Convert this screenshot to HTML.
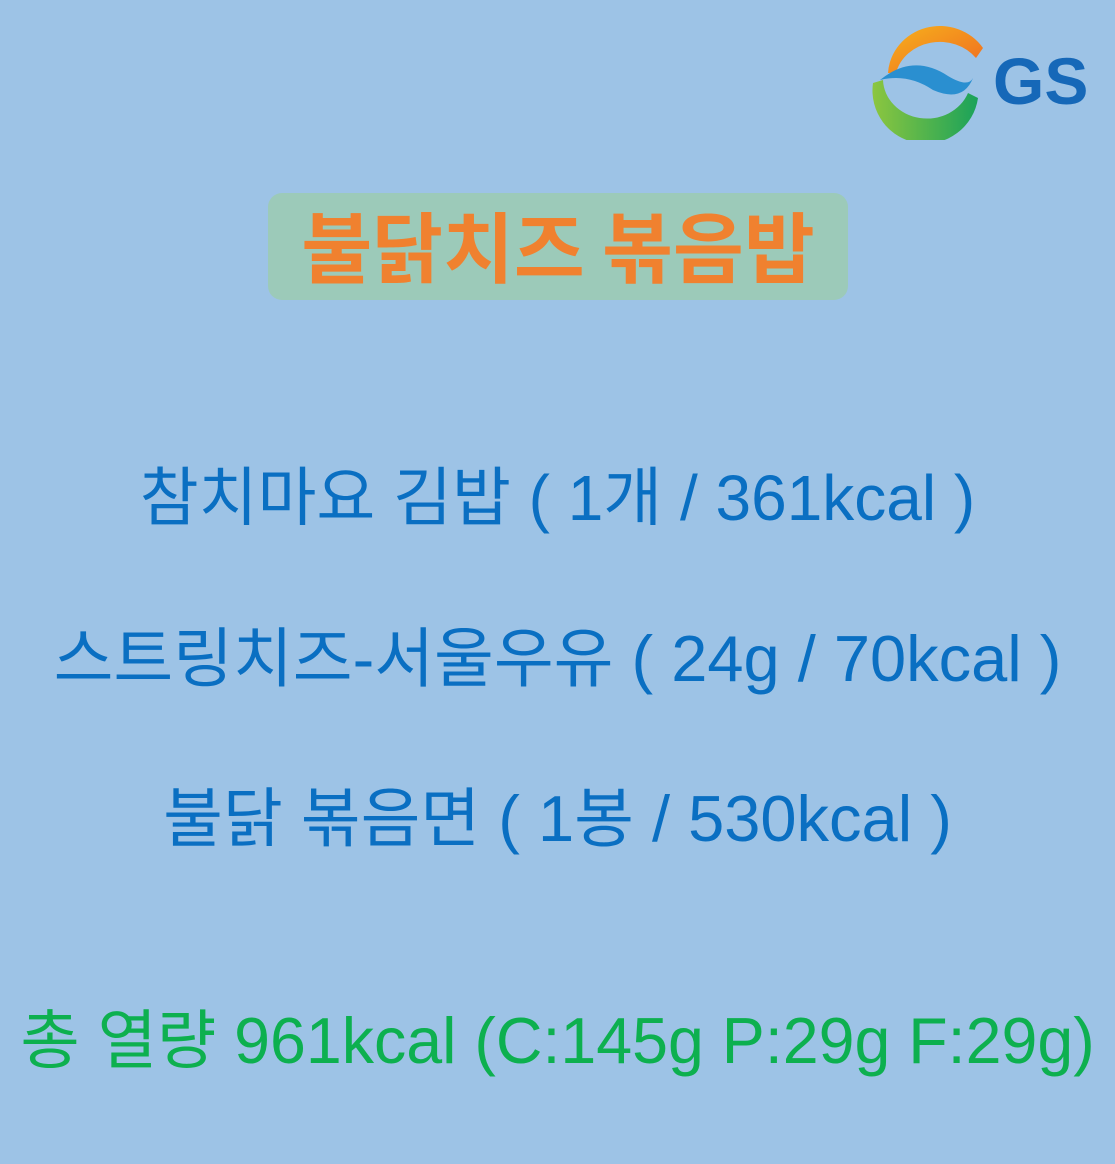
<!DOCTYPE html>
<html><head><meta charset="utf-8">
<style>
html,body{margin:0;padding:0}
body{width:1115px;height:1164px;background:#9dc3e6;position:relative;overflow:hidden;font-family:"Liberation Sans","Noto Sans CJK KR",sans-serif}
.line{position:absolute;left:0;width:1115px;text-align:center;white-space:nowrap;line-height:1}
.blue{color:#0a6fc2;font-size:64px}
#title-box{position:absolute;left:268px;top:193px;width:580px;height:107px;background:#9ccab9;border-radius:14px}
#title{position:absolute;left:268px;top:193px;width:580px;height:107px;line-height:104px;text-align:center;color:#f0812f;font-size:77px;font-weight:bold;font-family:"Noto Sans CJK KR",sans-serif}
</style></head><body>
<svg style="position:absolute;left:868px;top:18px" width="230" height="122" viewBox="0 0 230 122">
<defs>
<linearGradient id="g1" x1="0" y1="0" x2="1" y2="1"><stop offset="0" stop-color="#f7b21b"/><stop offset="1" stop-color="#ef6a22"/></linearGradient>
<linearGradient id="g2" x1="0" y1="0" x2="1" y2="0"><stop offset="0" stop-color="#8cc63f"/><stop offset="1" stop-color="#1aa25a"/></linearGradient>
</defs>
<path d="M20 55 A52 50 0 0 1 115 30 L108 40 A45 40 0 0 0 28 55 Z" fill="url(#g1)"/>
<path d="M5 65 A52 52 0 0 0 110 80 L100 75 A44 40 0 0 1 15 62 Z" fill="url(#g2)"/>
<path d="M12 62 Q45 35 80 58 Q100 70 105 60 Q95 85 65 72 Q40 55 12 62 Z" fill="#2a8fd0"/>
<text x="125" y="86" font-family="Liberation Sans,sans-serif" font-weight="bold" font-size="66" fill="#1668b8">GS</text>
</svg>
<div id="title-box"></div>
<div id="title">불닭치즈 볶음밥</div>
<div class="line blue" style="top:466px;font-size:64px">참치마요 김밥 ( 1개 / 361kcal )</div>
<div class="line blue" style="top:626px;font-size:65px">스트링치즈-서울우유 ( 24g / 70kcal )</div>
<div class="line blue" style="top:786px;font-size:65px">불닭 볶음면 ( 1봉 / 530kcal )</div>
<div class="line" style="top:1009px;color:#0db04f;font-size:64.5px">총 열량 961kcal (C:145g P:29g F:29g)</div>
</body></html>
